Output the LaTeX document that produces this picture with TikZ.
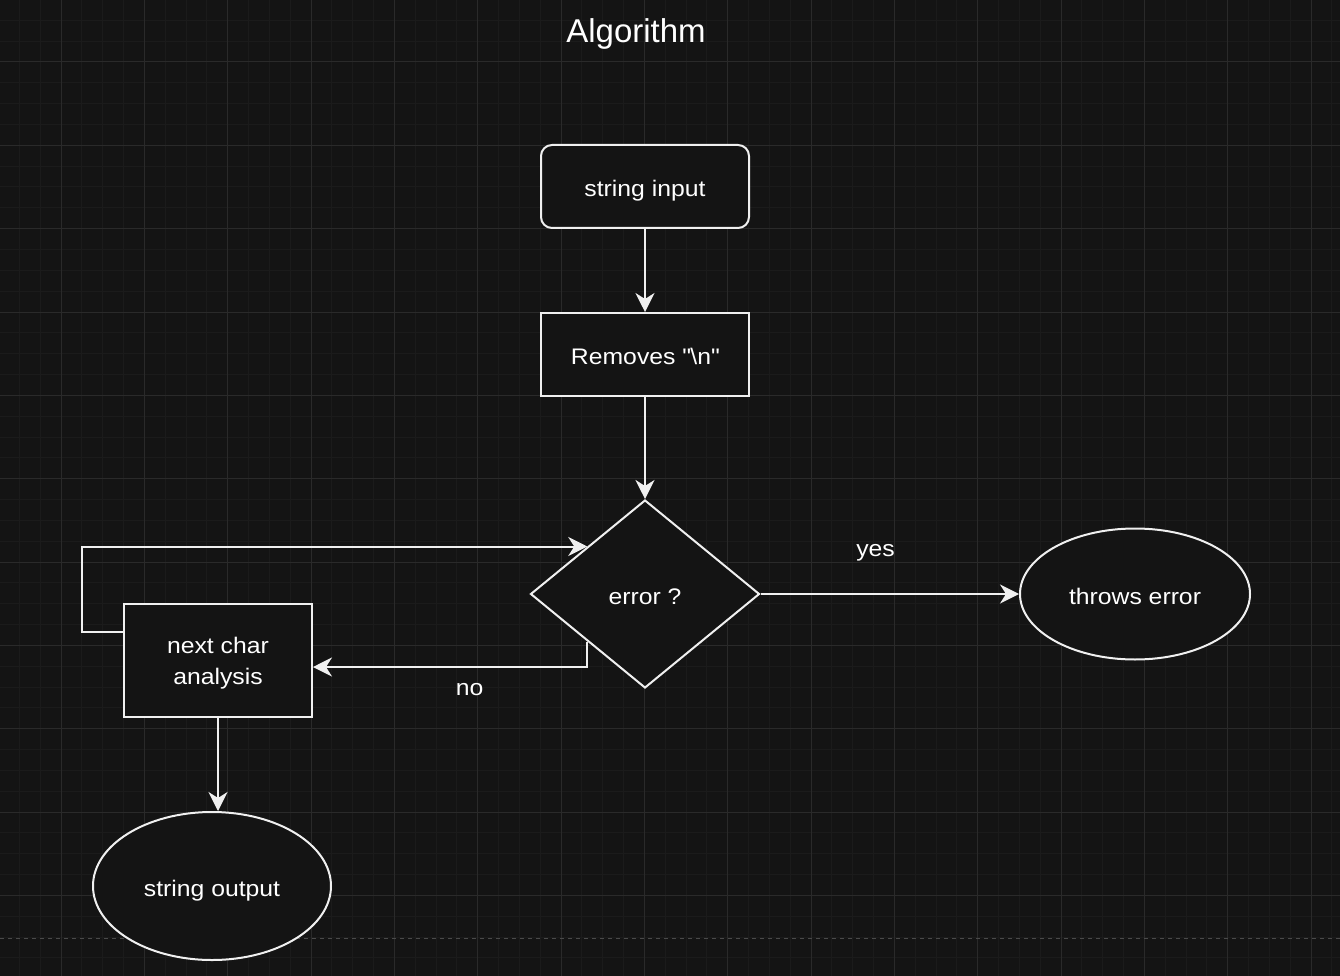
\documentclass[tikz,border=0pt]{standalone}
\usepackage{fontspec}
\setmainfont{Liberation Sans}
\newfontfamily\nodefont{Liberation Sans}[FakeStretch=1.1]
\usetikzlibrary{arrows.meta,shapes.geometric,calc}
\definecolor{bg}{HTML}{141414}
\definecolor{gridminor}{HTML}{1B1B1B}
\definecolor{gridmajor}{HTML}{2A2A2A}
\definecolor{ln}{HTML}{F0F0F0}
\definecolor{dashc}{HTML}{4A4A4A}
\tikzset{
  base/.style={draw=ln, line width=2pt, fill=bg, text=white, inner sep=0pt, align=center,
    font=\nodefont\fontsize{22.5}{31}\selectfont, text height=20pt, text depth=0pt},
  rbox/.style={base, rectangle, rounded corners=11pt, minimum width=208pt, minimum height=83pt},
  sbox/.style={base, rectangle, minimum width=208pt, minimum height=83pt},
  dia/.style={base, diamond, minimum width=229pt, minimum height=188pt},
  ell/.style={base, ellipse},
  arr/.style={draw=ln, line width=2pt, -{Stealth[length=19pt,width=19pt,inset=6pt]}},
  lbl/.style={text=white, inner sep=0pt, anchor=base, font=\nodefont\fontsize{22.5}{31}\selectfont},
}
\begin{document}
\begin{tikzpicture}[x=1pt,y=-1pt]
\useasboundingbox (0,0) rectangle (1340,976);
\fill[bg] (0,0) rectangle (1340,976);
\foreach \i in {-3,...,62} \draw[gridminor, line width=1pt] ({61+\i*20.8333},0) -- ++(0,976);
\foreach \i in {-3,...,45} \draw[gridminor, line width=1pt] (0,{62+\i*20.8333}) -- ++(1340,0);
\foreach \i in {-1,...,15} \draw[gridmajor, line width=1pt] ({61+\i*83.3333},0) -- ++(0,976);
\foreach \i in {-1,...,11} \draw[gridmajor, line width=1pt] (0,{62+\i*83.3333}) -- ++(1340,0);
\draw[dashc, line width=1pt, dash pattern=on 4pt off 4pt] (0,938) -- (1340,938);

\node[text=white, inner sep=0pt, anchor=base, font=\fontsize{33}{38}\selectfont] (title) at (636,42.3) {Algorithm};

\node[rbox] (in) at (645,186.5) {string input};
\node[sbox] (rm) at (645,354.5) {Removes \textquotedbl\textbackslash n\textquotedbl};
\node[dia] (err) at (645,594) {error ?};
\node[ell, minimum width=230pt, minimum height=131pt] (thr) at (1135,594) {throws error};
\node[sbox, minimum width=188pt, minimum height=113pt, text height=47.6pt, text depth=0pt] (nx) at (218,660.5) {next char\\analysis};
\node[ell, minimum width=238pt, minimum height=148pt] (out) at (212,886) {string output};

\draw[arr] (in) -- (rm);
\draw[arr] (rm) -- (err);
\draw[arr] (err) -- (thr);
\node[lbl] (yes) at (875.5,556.7) {yes};

\coordinate (errsw) at ($(err.west)!0.5!(err.south)$);
\coordinate (errnw) at ($(err.west)!0.5!(err.north)$);
\coordinate (noy) at (0,667);
\draw[arr] (errsw) -- (errsw |- noy) -- (nx.east |- noy);
\node[lbl] (no) at (469.7,695) {no};

\coordinate (loopy) at (0,632);
\coordinate (loopx) at (82,0);
\draw[arr] (nx.west |- loopy) -- (loopx |- loopy) -- (loopx |- errnw) -- (errnw);

\draw[arr] (nx.south) -- (nx.south |- out.north);
\end{tikzpicture}
\end{document}
